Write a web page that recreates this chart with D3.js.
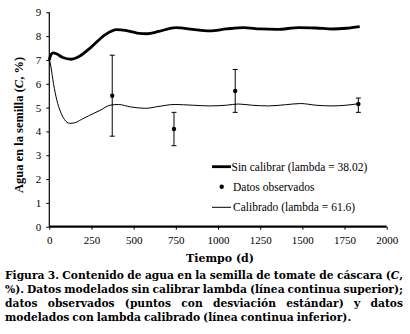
<!DOCTYPE html>
<html>
<head>
<meta charset="utf-8">
<script src="https://cdn.jsdelivr.net/npm/d3@7"></script>
<style>
  body { margin: 0; background: #fff; }
  svg { display: block; }
</style>
</head>
<body>
<svg id="chart" width="410" height="334"></svg>
<script>
var sinDays = [0, 10, 22, 45, 80, 130, 170, 250, 330, 400, 450, 520, 580, 650, 750, 850, 950, 1050, 1150, 1250, 1350, 1480, 1580, 1680, 1760, 1840];
var sinVals = [7.0, 7.22, 7.3, 7.25, 7.1, 7.03, 7.12, 7.55, 8.05, 8.27, 8.24, 8.13, 8.1, 8.2, 8.36, 8.28, 8.22, 8.3, 8.36, 8.3, 8.28, 8.36, 8.34, 8.3, 8.33, 8.4];

var calDays = [0, 10, 25, 45, 65, 90, 120, 150, 190, 240, 300, 360, 410, 480, 570, 650, 740, 850, 950, 1050, 1120, 1200, 1300, 1400, 1490, 1580, 1670, 1760, 1840];
var calVals = [7.05, 6.7, 6.0, 5.3, 4.85, 4.5, 4.34, 4.36, 4.5, 4.68, 4.88, 5.1, 5.13, 5.03, 4.97, 5.05, 5.13, 5.1, 5.07, 5.1, 5.15, 5.1, 5.07, 5.12, 5.17, 5.1, 5.07, 5.1, 5.17];

var obsDays = [373, 739, 1102, 1832];
var obsVals = [5.5, 4.1, 5.7, 5.15];
var obsLow  = [3.8, 3.4, 4.8, 4.8];
var obsHigh = [7.2, 4.8, 6.6, 5.4];

var xTicks = [0, 250, 500, 750, 1000, 1250, 1500, 1750, 2000];
var yTicks = [0, 1, 2, 3, 4, 5, 6, 7, 8, 9];

var legendItems = ["Sin calibrar (lambda = 38.02)", "Datos observados", "Calibrado (lambda = 61.6)"];

var captionLines = [
    "Figura 3. Contenido de agua en la semilla de tomate de cáscara (_C_,",
    "%). Datos modelados sin calibrar lambda (línea continua superior);",
    "datos observados (puntos con desviación estándar) y datos",
    "modelados con lambda calibrado (línea continua inferior)."
];

var serif = "'Liberation Serif'";
var wideSerif = "'DejaVu Serif'";

var svg = d3.select("#chart"),
    margin = { top: 12.3, left: 49.3 },
    width = 337.4,
    height = 214.4;

var x = d3.scaleLinear().domain([0, 2000]).range([0, width]);
var y = d3.scaleLinear().domain([0, 9]).range([height, 0]);

var g = svg.append("g")
    .attr("transform", "translate(" + margin.left + "," + margin.top + ")");

// y axis
var yAxis = d3.axisLeft(y).tickValues(yTicks).tickSize(3).tickPadding(5);
var yg = g.append("g").call(yAxis);
yg.select(".domain").attr("d", "M0," + height + "V0").attr("stroke-width", 1.2);
yg.selectAll("text").style("font-family", serif).style("font-size", "11px");

// x axis
var xAxis = d3.axisBottom(x).tickValues(xTicks).tickFormat(d3.format("d")).tickSize(3).tickPadding(7);
var xg = g.append("g").attr("transform", "translate(0," + height + ")").call(xAxis);
xg.select(".domain").attr("d", "M0,0H" + width).attr("stroke-width", 2.2);
xg.selectAll("text").style("font-family", serif).style("font-size", "11px");

var line = d3.line()
    .x(function(d) { return x(d[0]); })
    .y(function(d) { return y(d[1]); })
    .curve(d3.curveMonotoneX);

g.append("path")
    .datum(d3.zip(sinDays, sinVals))
    .attr("d", line)
    .attr("fill", "none")
    .attr("stroke", "#000")
    .attr("stroke-width", 2.8);

g.append("path")
    .datum(d3.zip(calDays, calVals))
    .attr("d", line)
    .attr("fill", "none")
    .attr("stroke", "#000")
    .attr("stroke-width", 1);

// observed points with std dev
var obs = obsDays.map(function(d, i) {
    return { d: d, v: obsVals[i], lo: obsLow[i], hi: obsHigh[i] };
});
var og = g.selectAll(".obs").data(obs).enter().append("g").attr("class", "obs");
og.append("line")
    .attr("x1", function(d) { return x(d.d); })
    .attr("x2", function(d) { return x(d.d); })
    .attr("y1", function(d) { return y(d.lo); })
    .attr("y2", function(d) { return y(d.hi); })
    .attr("stroke", "#000").attr("stroke-width", 1);
[ "lo", "hi" ].forEach(function(k) {
    og.append("line")
        .attr("x1", function(d) { return x(d.d) - 2.5; })
        .attr("x2", function(d) { return x(d.d) + 2.5; })
        .attr("y1", function(d) { return y(d[k]); })
        .attr("y2", function(d) { return y(d[k]); })
        .attr("stroke", "#000").attr("stroke-width", 1);
});
og.append("circle")
    .attr("cx", function(d) { return x(d.d); })
    .attr("cy", function(d) { return y(d.v); })
    .attr("r", 2.2)
    .attr("fill", "#000");

// legend
var lg = svg.append("g").attr("transform", "translate(212,166.7)");
lg.append("line").attr("x1", 0).attr("x2", 19).attr("y1", 0).attr("y2", 0)
    .attr("stroke", "#000").attr("stroke-width", 2.8);
lg.append("circle").attr("cx", 9.7).attr("cy", 20).attr("r", 2.2).attr("fill", "#000");
lg.append("line").attr("x1", 0).attr("x2", 19).attr("y1", 40.6).attr("y2", 40.6)
    .attr("stroke", "#000").attr("stroke-width", 1);
lg.selectAll(".leg").data(legendItems).enter().append("text")
    .attr("x", function(d, i) { return i === 0 ? 19.5 : 21; })
    .attr("y", function(d, i) { return i * 20.3 + 4; })
    .style("font-family", serif).style("font-size", "11.5px")
    .text(function(d) { return d; });

// axis titles
svg.append("text")
    .attr("x", 220).attr("y", 262)
    .attr("text-anchor", "middle")
    .style("font-family", wideSerif).style("font-size", "11px").style("font-weight", "bold")
    .text("Tiempo (d)");

var yl = svg.append("text")
    .attr("transform", "translate(22.5,125) rotate(-90)")
    .attr("text-anchor", "middle")
    .style("font-family", serif).style("font-size", "12.5px").style("font-weight", "bold");
yl.append("tspan").text("Agua en la semilla (");
yl.append("tspan").style("font-style", "italic").text("C");
yl.append("tspan").text(", %)");

// caption, justified
var capLeft = 5, capRight = 403, capTop = 279, capStep = 14.1, minGap = 3;

function addRich(sel, str) {
    str.split("_").forEach(function(part, i) {
        if (part === "") return;
        sel.append("tspan").style("font-style", i % 2 ? "italic" : null).text(part);
    });
}

function captionWords(ln, li, size) {
    return ln.split(" ").map(function(w) {
        var t = svg.append("text")
            .attr("y", capTop + li * capStep)
            .style("font-family", wideSerif).style("font-size", size + "px").style("font-weight", "bold");
        addRich(t, w);
        return t;
    });
}

// pick the size so the widest line still fits with small gaps
var capSize = d3.min(captionLines, function(ln, li) {
    var nodes = captionWords(ln, li, 12);
    var w = d3.sum(nodes, function(t) { return t.node().getComputedTextLength(); });
    nodes.forEach(function(t) { t.remove(); });
    return 12 * (capRight - capLeft - minGap * (nodes.length - 1)) / w;
});

captionLines.forEach(function(ln, li) {
    var nodes = captionWords(ln, li, capSize);
    var widths = nodes.map(function(t) { return t.node().getComputedTextLength(); });
    var total = d3.sum(widths);
    var last = li === captionLines.length - 1;
    var gap = last ? minGap : (capRight - capLeft - total) / (nodes.length - 1);
    var cx = capLeft;
    nodes.forEach(function(t, i) {
        t.attr("x", cx);
        cx += widths[i] + gap;
    });
});
</script>
</body>
</html>
